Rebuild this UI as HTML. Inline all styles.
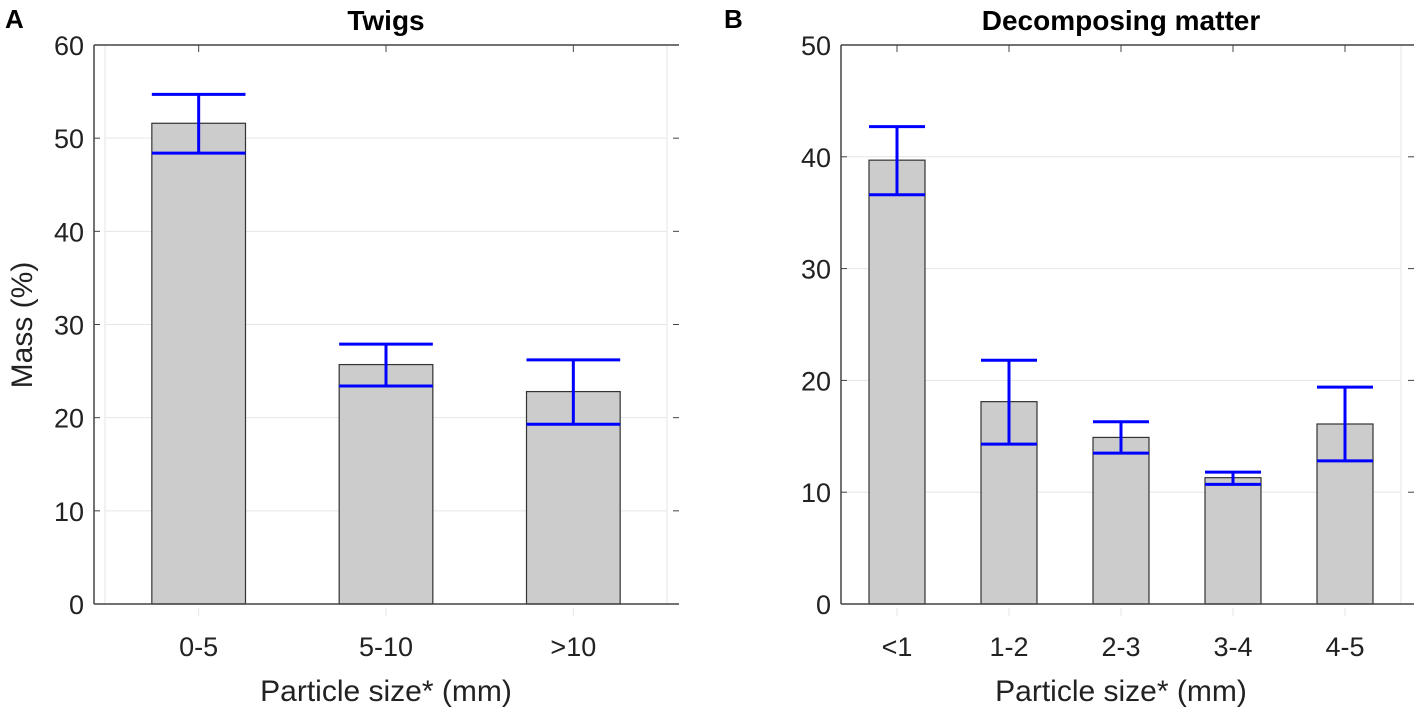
<!DOCTYPE html>
<html><head><meta charset="utf-8"><style>
body{margin:0;background:#fff;}
svg text{font-family:"Liberation Sans",Arial,sans-serif;}
</style></head><body>
<svg id="c" width="1418" height="723" xmlns="http://www.w3.org/2000/svg"></svg>
<script>
const catsA=["0-5","5-10",">10"];
const valsA=[51.6,25.7,22.8];
const lowA=[48.4,23.4,19.3];
const highA=[54.7,27.9,26.2];
const ticksA=[0,10,20,30,40,50,60];
const catsB=["<1","1-2","2-3","3-4","4-5"];
const valsB=[39.7,18.1,14.9,11.3,16.1];
const lowB=[36.6,14.3,13.5,10.7,12.8];
const highB=[42.7,21.8,16.3,11.8,19.4];
const ticksB=[0,10,20,30,40,50];
const NS="http://www.w3.org/2000/svg";
const svg=document.getElementById('c');
function mk(t,a,p){const e=document.createElementNS(NS,t);for(const k in a)e.setAttribute(k,a[k]);(p||svg).appendChild(e);return e;}
function panel(o){
  const g=mk('g',{});
  
  
  const ymax=o.ticks[o.ticks.length-1];
  const y=v=>o.bottom-(v/ymax)*(o.bottom-o.top);
  const n=o.cats.length;
  const step=(o.b1-o.b0)/n;
  const x=i=>o.b0+step*(i+0.5);
  o.ticks.forEach(t=>{
    const gl=mk('line',{x1:o.b0,x2:o.b1,y1:y(t),y2:y(t),stroke:'#e6e6e6','stroke-width':1},g);
    
    mk('line',{x1:o.left,x2:o.left+6,y1:y(t),y2:y(t),stroke:'#444','stroke-width':1},g);
    mk('line',{x1:o.right-6,x2:o.right,y1:y(t),y2:y(t),stroke:'#444','stroke-width':1},g);
    const tl=mk('text',{x:o.left-10,y:y(t)+10,'text-anchor':'end','font-size':27,fill:'#222'},g);
    tl.textContent=t;
    
  });
  mk('line',{x1:o.b0,x2:o.b0,y1:o.top,y2:o.bottom,stroke:'#e6e6e6'},g);
  mk('line',{x1:o.b1,x2:o.b1,y1:o.top,y2:o.bottom,stroke:'#e6e6e6'},g);
  o.cats.forEach((c,i)=>{
    const bw=step*0.5;
    mk('line',{x1:x(i),x2:x(i),y1:o.bottom+4,y2:o.bottom+12,stroke:'#e6e6e6'},g);
    const b=mk('rect',{x:x(i)-bw/2,y:y(o.vals[i]),width:bw,height:o.bottom-y(o.vals[i]),fill:'#cccccc',stroke:'#333','stroke-width':1.2},g);
    
    const cw=step*0.25;
    const eg=mk('g',{stroke:'#0000ff','stroke-width':3},g);
    
    mk('line',{x1:x(i),x2:x(i),y1:y(o.low[i]),y2:y(o.high[i])},eg);
    mk('line',{x1:x(i)-cw,x2:x(i)+cw,y1:y(o.low[i]),y2:y(o.low[i])},eg);
    mk('line',{x1:x(i)-cw,x2:x(i)+cw,y1:y(o.high[i]),y2:y(o.high[i])},eg);
    mk('line',{x1:x(i),x2:x(i),y1:o.top,y2:o.top+7,stroke:'#444'},g);
    const xl=mk('text',{x:x(i),y:o.bottom+52,'text-anchor':'middle','font-size':27,fill:'#222'},g);
    xl.textContent=c;
    
  });
  mk('line',{x1:o.left,x2:o.left,y1:o.top,y2:o.bottom,stroke:'#444','stroke-width':1.5},g);
  mk('line',{x1:o.left,x2:o.right,y1:o.top,y2:o.top,stroke:'#444','stroke-width':1.5},g);
  const xa=mk('line',{x1:o.left,x2:o.right,y1:o.bottom,y2:o.bottom,stroke:'#444','stroke-width':1.5},g);
  
  const xt=mk('text',{x:(o.b0+o.b1)/2,y:o.bottom+97,'text-anchor':'middle','font-size':30,fill:'#222'},g);
  xt.textContent='Particle size* (mm)';
  
  const tt=mk('text',{x:(o.b0+o.b1)/2,y:30,'text-anchor':'middle','font-size':28,'font-weight':'bold',fill:'#000'},g);
  tt.textContent=o.title;
  
  const pl=mk('text',{x:o.letterX,y:28,'font-size':26,'font-weight':'bold',fill:'#000'},g);
  pl.textContent=o.letter;
  
}
panel({name:'panel-a-twigs',left:94,right:679,b0:105,b1:667,top:45,bottom:604,cats:catsA,vals:valsA,low:lowA,high:highA,ticks:ticksA,title:'Twigs',letter:'A',letterX:5});
panel({name:'panel-b-decomposing',left:841,right:1414,b0:841,b1:1401,top:45,bottom:604,cats:catsB,vals:valsB,low:lowB,high:highB,ticks:ticksB,title:'Decomposing matter',letter:'B',letterX:724});
const yt=mk('text',{x:0,y:0,'text-anchor':'middle','font-size':30,fill:'#222',transform:'translate(32,325) rotate(-90)'});
yt.textContent='Mass (%)';


</script>
</body></html>
